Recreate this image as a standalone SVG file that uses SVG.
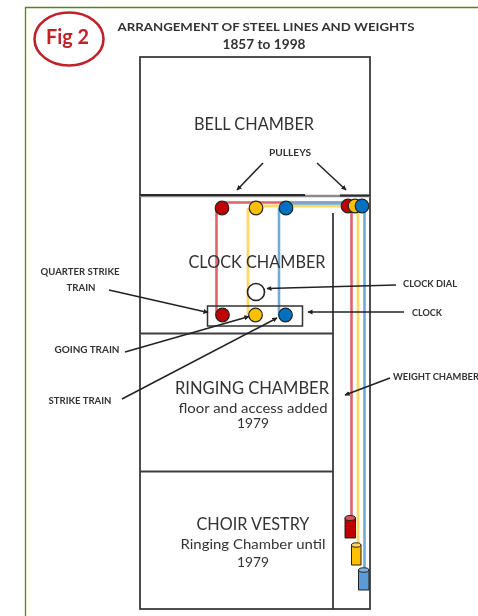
<svg xmlns="http://www.w3.org/2000/svg" width="478" height="616" viewBox="0 0 478 616">
<style>
text{font-family:Lato,"Open Sans","Liberation Sans",sans-serif;fill:#333;text-anchor:middle}
.room{font-size:17px}
.sub{font-size:13px}
.lab{font-size:8.500px;font-weight:700}
.wall{stroke:#3c3c3c;stroke-width:1.800;fill:none}
.lead{stroke:#222;stroke-width:1.500;fill:none}
.p{stroke:#222;stroke-width:1.200}
.r{fill:#c00000}.y{fill:#ffc000}.b{fill:#0070c0}
.lr{stroke:#e0626c;stroke-width:2.600;fill:none}
.ly{stroke:#ffd966;stroke-width:2.800;fill:none}
.lb{stroke:#6aaee0;stroke-width:2.600;fill:none}
</style>
<defs>
<filter id="soft" x="-5%" y="-5%" width="110%" height="110%"><feGaussianBlur stdDeviation="0.6"/></filter>
<marker id="ah" markerWidth="6" markerHeight="6" refX="4.500" refY="2.500" orient="auto" markerUnits="userSpaceOnUse"><path d="M0 0L5 2.500L0 5z" fill="#222"/></marker>
</defs>
<rect width="478" height="616" fill="#fff"/>
<g filter="url(#soft)">
<path d="M25.500 616V7.500H478" fill="none" stroke="#5f7f1f" stroke-width="1.300"/>
<g id="fig-badge">
<ellipse cx="69" cy="39" rx="34.500" ry="26.500" fill="#fff" stroke="#c0202a" stroke-width="2.600"/>
<text x="67.500" y="43.500" style="font-size:20px;font-weight:700;fill:#c0202a" textLength="43" lengthAdjust="spacingAndGlyphs">Fig 2</text>
</g>
<g id="title">
<text x="266" y="31" style="font-size:12px;font-weight:700" textLength="297" lengthAdjust="spacingAndGlyphs">ARRANGEMENT OF STEEL LINES AND WEIGHTS</text>
<text x="264" y="49" style="font-size:12.500px;font-weight:700" textLength="83" lengthAdjust="spacingAndGlyphs">1857 to 1998</text>
</g>
<g id="tower">
<rect class="wall" x="140" y="57" width="230" height="552"/>
<path d="M140 196H370" stroke="#8a8a8a" stroke-width="2.400"/>
<path d="M140 195H305M340 195.500H370" stroke="#2a2a2a" stroke-width="2"/>
<path class="wall" d="M140 333.500H333" stroke-width="2.600"/>
<path class="wall" d="M140 471.500H333M333 213V609"/>
</g>
<g id="lines">
<path class="lr" d="M216.500 208V315M222 202.500H351.500V516"/>
<path class="ly" d="M248 208V315M256 206H358V545"/>
<path class="lb" d="M279 208V315M286 203.500H364.500V570"/>
</g>
<g id="pulleys">
<circle class="p r" cx="222" cy="208" r="6.800"/>
<circle class="p y" cx="256" cy="208" r="6.800"/>
<circle class="p b" cx="286" cy="208" r="6.800"/>
<circle class="p r" cx="348" cy="206" r="6.800"/>
<circle class="p y" cx="355" cy="206" r="6.800"/>
<circle class="p b" cx="362" cy="206" r="6.800"/>
</g>
<g id="clock">
<rect x="207.500" y="306" width="95" height="20" fill="none" stroke="#333" stroke-width="1.500"/>
<circle cx="256" cy="292" r="8.500" fill="#fff" stroke="#222" stroke-width="1.600"/>
<circle class="p r" cx="222.500" cy="315" r="6.800"/>
<circle class="p y" cx="255.500" cy="315" r="6.800"/>
<circle class="p b" cx="285.500" cy="315" r="6.800"/>
</g>
<g id="weights">
<path d="M345 518V538H355.500V518z" fill="#c00000" stroke="#222" stroke-width="1"/>
<ellipse cx="350.200" cy="518" rx="5.200" ry="2.500" fill="#d8555c" stroke="#222"/>
<path d="M351.500 545V565H361V545z" fill="#ffc000" stroke="#222" stroke-width="1"/>
<ellipse cx="356.200" cy="545" rx="4.700" ry="2.200" fill="#ffd966" stroke="#222"/>
<path d="M358.500 570V590H369V570z" fill="#5b9bd5" stroke="#222" stroke-width="1"/>
<ellipse cx="363.700" cy="570" rx="5.200" ry="2.200" fill="#7fb2e0" stroke="#222"/>
</g>
<g id="connectors">
<path class="lead" marker-end="url(#ah)" d="M263 163L237 190"/>
<path class="lead" marker-end="url(#ah)" d="M317 163L346 190"/>
<path class="lead" marker-end="url(#ah)" d="M109 290L208 312.500"/>
<path class="lead" marker-end="url(#ah)" d="M125 352L249 316.500"/>
<path class="lead" marker-end="url(#ah)" d="M122 399L277 318"/>
<path class="lead" marker-end="url(#ah)" d="M396 285L267 288.500"/>
<path class="lead" marker-end="url(#ah)" d="M404 312L308 312"/>
<path class="lead" marker-end="url(#ah)" d="M390 378L345 395"/>
</g>
<g id="labels">
<text class="room" x="254" y="130" textLength="120" lengthAdjust="spacingAndGlyphs">BELL CHAMBER</text>
<text class="room" x="257" y="268" textLength="137" lengthAdjust="spacingAndGlyphs">CLOCK CHAMBER</text>
<text class="room" x="252" y="394" textLength="154" lengthAdjust="spacingAndGlyphs">RINGING CHAMBER</text>
<text class="sub" x="253" y="413" textLength="149" lengthAdjust="spacingAndGlyphs">floor and access added</text>
<text class="sub" x="253" y="428" textLength="32" lengthAdjust="spacingAndGlyphs">1979</text>
<text class="room" x="253" y="530" textLength="113" lengthAdjust="spacingAndGlyphs">CHOIR VESTRY</text>
<text class="sub" x="253" y="549" textLength="145" lengthAdjust="spacingAndGlyphs">Ringing Chamber until</text>
<text class="sub" x="253" y="567" textLength="32" lengthAdjust="spacingAndGlyphs">1979</text>
<text class="lab" x="290" y="156" textLength="42" lengthAdjust="spacingAndGlyphs">PULLEYS</text>
<text class="lab" x="80" y="275" textLength="79" lengthAdjust="spacingAndGlyphs">QUARTER STRIKE</text>
<text class="lab" x="81" y="291" textLength="29" lengthAdjust="spacingAndGlyphs">TRAIN</text>
<text class="lab" x="87" y="353" textLength="65" lengthAdjust="spacingAndGlyphs">GOING TRAIN</text>
<text class="lab" x="80" y="404" textLength="63" lengthAdjust="spacingAndGlyphs">STRIKE TRAIN</text>
<text class="lab" x="430" y="287" textLength="54" lengthAdjust="spacingAndGlyphs">CLOCK DIAL</text>
<text class="lab" x="427" y="316" textLength="30" lengthAdjust="spacingAndGlyphs">CLOCK</text>
<text class="lab" x="436" y="380" textLength="86" lengthAdjust="spacingAndGlyphs">WEIGHT CHAMBER</text>
</g>
</g>
</svg>
